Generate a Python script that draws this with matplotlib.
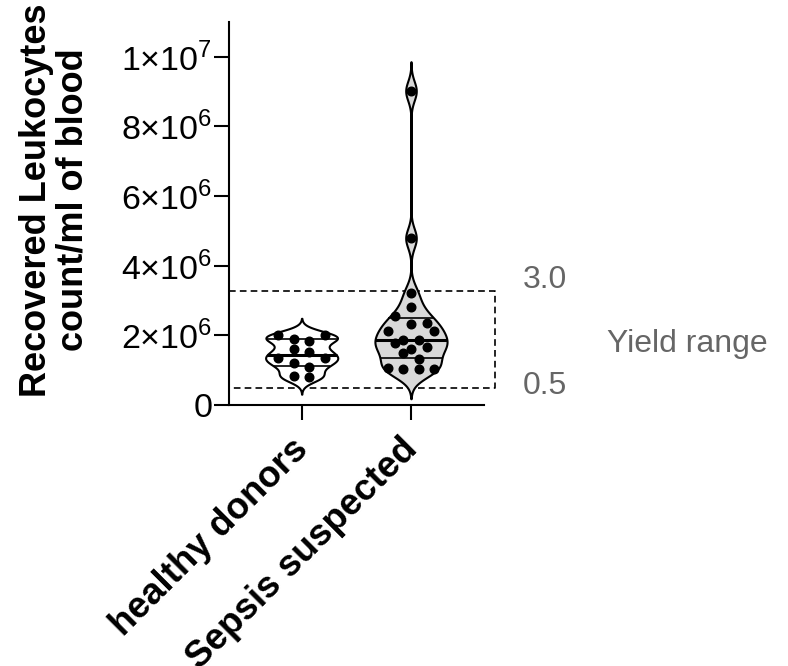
import numpy as np
import matplotlib.pyplot as plt
from matplotlib.transforms import ScaledTranslation

plt.rcParams['font.family'] = ['Liberation Sans', 'DejaVu Sans']
plt.rcParams['mathtext.fontset'] = 'custom'
plt.rcParams['mathtext.rm'] = 'Liberation Sans'

groups = ["healthy donors", "Sepsis suspected"]
healthy = np.array([2.01, 2.01, 1.90, 1.85, 1.61, 1.51, 1.35, 1.35,
                    1.20, 1.10, 0.84, 0.79]) * 1e6
sepsis = np.array([9.02, 4.79, 3.21, 2.81, 2.55, 2.36, 2.33, 2.12, 2.12, 1.88,
                   1.88, 1.77, 1.66, 1.61, 1.49, 1.32, 1.05, 1.04, 1.02, 1.02]) * 1e6
bandwidths = [0.16e6, 0.28e6]
fills = ["white", "#d9d9d9"]

yield_low, yield_high = 0.5e6, 3.27e6
yield_labels = ["0.5", "3.0"]

yticks = [0, 2e6, 4e6, 6e6, 8e6, 1e7]
ytick_labels = ["0", "2×10$^{6}$", "4×10$^{6}$", "6×10$^{6}$", "8×10$^{6}$", "1×10$^{7}$"]


def kde(vals, h, grid):
    return np.exp(-0.5 * ((grid[:, None] - vals[None, :]) / h) ** 2).sum(axis=1)


def swarm(vals, b, step):
    # bin points from the top down, then spread each bin around the centre
    order = np.argsort(-vals, kind='stable')
    offs = np.zeros(len(vals))
    k = 0
    while k < len(order):
        start = vals[order[k]]
        grp = [order[k]]
        k += 1
        while k < len(order) and start - vals[order[k]] <= b and len(grp) < 4:
            grp.append(order[k])
            k += 1
        n = len(grp)
        slots = (np.arange(n) - (n - 1) / 2) * step
        slot_order = np.argsort(-np.abs(slots), kind='stable')
        for idx, s in zip(grp, slot_order):
            offs[idx] = slots[s]
    return offs


fig = plt.figure(figsize=(7.88, 6.66), dpi=100)
ax = fig.add_axes([229 / 788, 1 - 405 / 666, (484 - 229) / 788, (405 - 22) / 666])

half_width = 0.33
for i, (vals, h, fc) in enumerate(zip([healthy, sepsis], bandwidths, fills)):
    grid = np.linspace(vals.min() - 3 * h, vals.max() + 3 * h, 800)
    dens = kde(vals, h, grid)
    w = dens / dens.max() * half_width
    ax.fill_betweenx(grid, i - w, i + w, facecolor=fc, edgecolor='black',
                     linewidth=1.5, zorder=2)
    q1, med, q3 = np.percentile(vals, [25, 50, 75], method='weibull')
    for q, lw in [(q1, 1.2), (med, 2.2), (q3, 1.2)]:
        wq = np.interp(q, grid, w)
        ax.plot([i - wq, i + wq], [q, q], color='black', lw=lw, zorder=3,
                solid_capstyle='butt')
    offs = swarm(vals, 0.25e6, 0.142)
    ax.plot(i + offs, vals, 'o', color='black', markersize=6.2, zorder=4)

# yield range box
xl, xr = -0.665, 1.771
ax.plot([xl, xr, xr, xl], [yield_high, yield_high, yield_low, yield_low],
        color='black', lw=1.2, ls=(0, (4, 2.5)), clip_on=False, zorder=1)
ax.text(2.025, 3.58e6, yield_labels[1], fontsize=23, color='#666666',
        ha='left', va='center')
ax.text(2.025, 0.56e6, yield_labels[0], fontsize=23, color='#666666',
        ha='left', va='center')
ax.text(2.79, 1.76e6, "Yield range", fontsize=23, color='#666666',
        ha='left', va='center')

ax.set_xlim(-0.665, 1.668)
ax.set_ylim(0, 1.1e7)
ax.set_yticks(yticks)
ax.set_yticklabels(ytick_labels, fontsize=24.5)
ax.set_xticks([0, 1])
ax.set_xticklabels([])
lab_tr = ax.get_xaxis_transform() + ScaledTranslation(-0.11, -0.268, fig.dpi_scale_trans)
for i, g in enumerate(groups):
    ax.text(i, 0, g, transform=lab_tr, fontsize=26.5, fontweight='bold',
            rotation=45, ha='right', va='top', rotation_mode='anchor')
ax.tick_params(length=11, width=1.5, pad=1)
for s in ['top', 'right']:
    ax.spines[s].set_visible(False)
for s in ['left', 'bottom']:
    ax.spines[s].set_linewidth(1.5)

fig.text(55 / 788, 1 - 200 / 666, "Recovered Leukocytes\ncount/ml of blood",
         rotation=90, fontsize=26, fontweight='bold', ha='center', va='center',
         linespacing=1.05)

fig.savefig('out.png', dpi=100)
